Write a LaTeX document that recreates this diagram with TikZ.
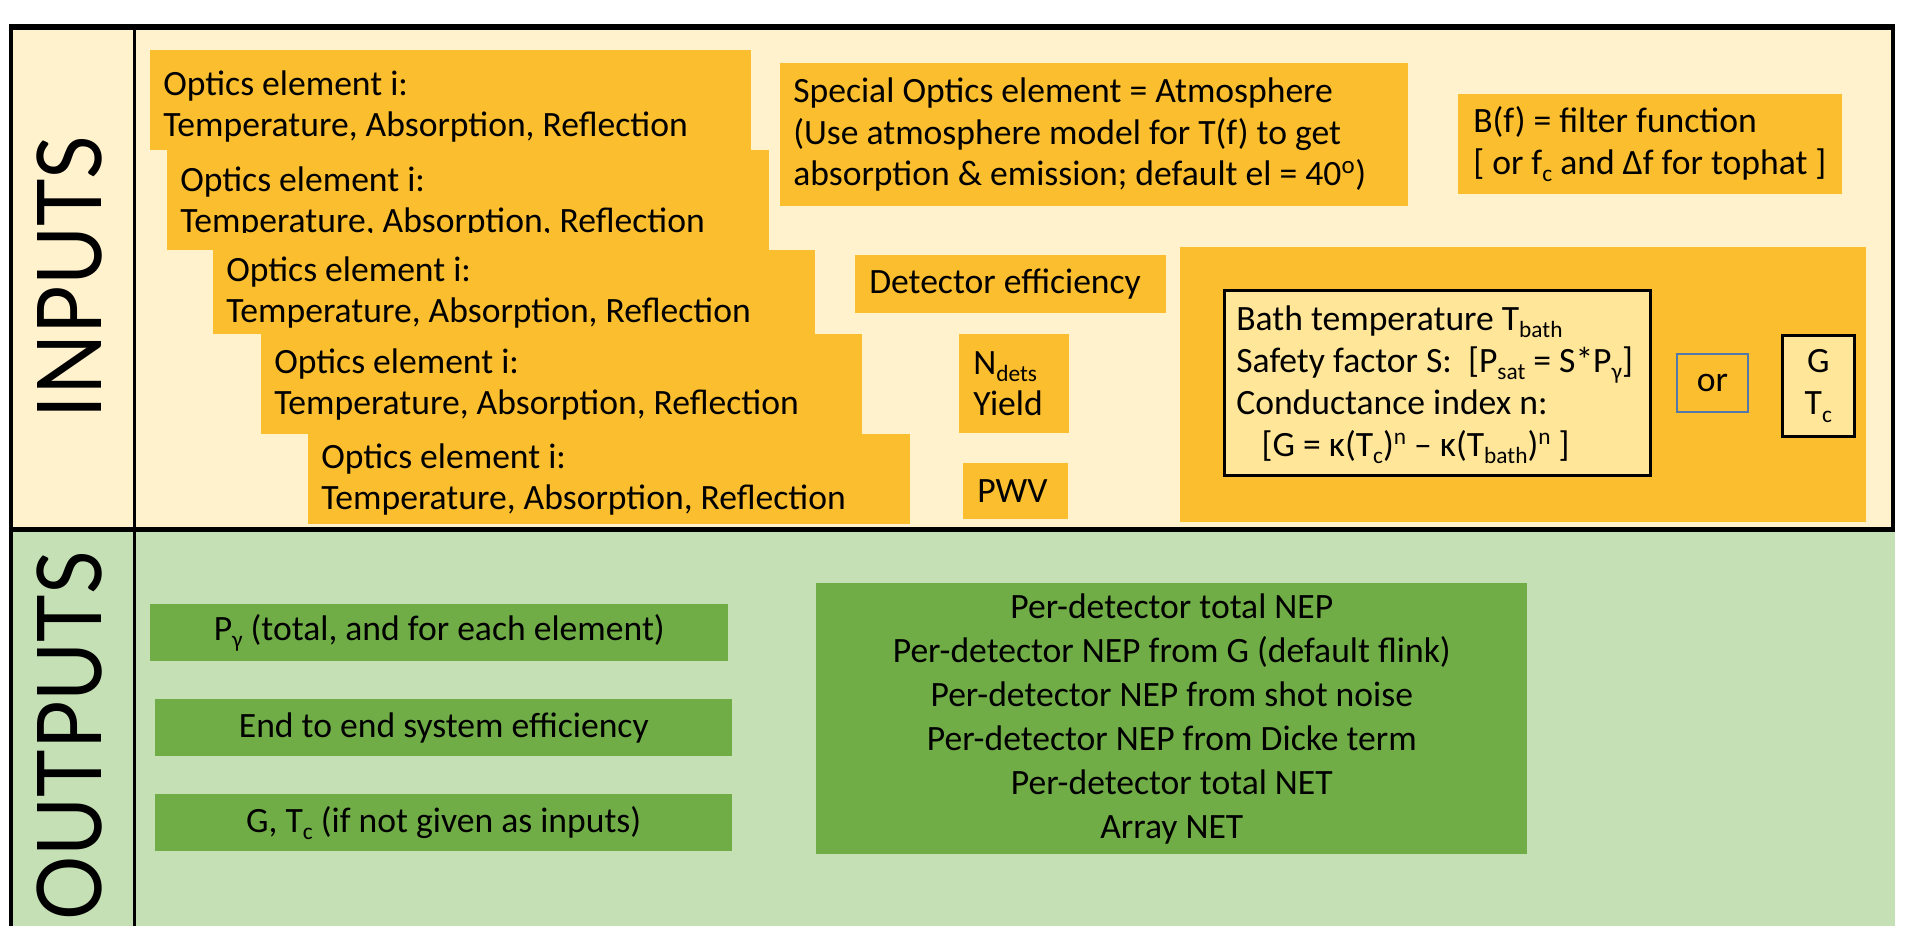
\documentclass[tikz,border=0pt]{standalone}
\usepackage{fontspec}
\setmainfont{Carlito}
\newfontfamily\labelfont{Lato}
\usepackage{graphicx}
\definecolor{cream}{HTML}{FFF2CC}
\definecolor{sage}{HTML}{C6E0B5}
\definecolor{gold}{HTML}{FBBE2E}
\definecolor{leaf}{HTML}{70AD47}
\definecolor{paleGold}{HTML}{FFE699}
\definecolor{steel}{HTML}{5479A8}
\newcommand\pxu{0.75pt}
\newcommand\bxfont{\fontsize{26.7}{31}\selectfont}
\newcommand\sbs[1]{\raisebox{-5.5pt}{\fontsize{17.5}{17.5}\selectfont #1}}
\newcommand\sps[1]{\raisebox{9pt}{\fontsize{17.5}{17.5}\selectfont #1}}
\tikzset{
  obox/.style={fill=gold, draw=none, anchor=north west, inner sep=0pt},
  otext/.style={anchor=west, align=left, inner sep=0pt, font=\bxfont},
  gbox/.style={fill=leaf, draw=none, anchor=north west, inner sep=0pt, align=center, font=\bxfont},
  bigLabel/.style={rotate=90, inner sep=0pt, font=\labelfont\fontsize{67}{67}\selectfont},
}
\begin{document}
\begin{tikzpicture}[x=0.75pt, y=-0.75pt]
\useasboundingbox (0,0) rectangle (1908,952);
% panels
\fill[cream] (11,27) rectangle (1893,529);
\fill[sage] (11,529) rectangle (1895,926);

% optics elements
\node[obox, minimum width=601*\pxu, minimum height=100*\pxu] (o1) at (150,50) {};
\node[otext] (o1t) at ([xshift=13*\pxu, yshift=-6*\pxu]o1.west) {Optics element i:\\Temperature, Absorption, Reflection};
\node[obox, minimum width=602*\pxu, minimum height=100*\pxu] (o2) at (167,150) {};
\begin{scope}
\clip (167,150) rectangle (769,233);
\node[otext] (o2t) at ([xshift=13*\pxu, yshift=-2*\pxu]o2.west) {Optics element i:\\Temperature, Absorption, Reflection};
\end{scope}
\node[obox, minimum width=602*\pxu, minimum height=84*\pxu] (o3) at (213,250) {};
\node[otext] (o3t) at ([xshift=13*\pxu]o3.west) {Optics element i:\\Temperature, Absorption, Reflection};
\node[obox, minimum width=601*\pxu, minimum height=100*\pxu] (o4) at (261,334) {};
\node[otext] (o4t) at ([xshift=13*\pxu]o4.west) {Optics element i:\\Temperature, Absorption, Reflection};
\node[obox, minimum width=602*\pxu, minimum height=90*\pxu] (o5) at (308,434) {};
\node[otext] (o5t) at ([xshift=13*\pxu]o5.west) {Optics element i:\\Temperature, Absorption, Reflection};

% special optics
\node[obox, minimum width=628*\pxu, minimum height=143*\pxu] (sp) at (780,63) {};
\node[otext] (spt) at ([xshift=13*\pxu]sp.west) {Special Optics element = Atmosphere\\(Use atmosphere model for T(f) to get\\absorption \& emission; default el = 40\textsuperscript{o})};

% filter
\node[obox, minimum width=384*\pxu, minimum height=100*\pxu] (bf) at (1458,94) {};
\node[otext] (bft) at ([xshift=15*\pxu]bf.west) {B(f) = filter function\\{[} or f\sbs{c} and Δf for tophat ]};

% detector efficiency, Ndets, PWV
\node[obox, minimum width=311*\pxu, minimum height=58*\pxu] (de) at (855,255) {};
\node[otext] (det) at ([xshift=14*\pxu]de.west) {Detector efficiency};
\node[obox, minimum width=110*\pxu, minimum height=99*\pxu] (nd) at (959,334) {};
\node[otext] (ndt) at ([xshift=14*\pxu]nd.west) {N\sbs{dets}\\Yield};
\node[obox, minimum width=105*\pxu, minimum height=56*\pxu] (pw) at (963,463) {};
\node[otext] (pwt) at ([xshift=14*\pxu]pw.west) {PWV};

% bolometer parameters
\node[obox, minimum width=686*\pxu, minimum height=275*\pxu] (bo) at (1180,247) {};
\node[obox, fill=paleGold, draw=black, line width=1.9pt, minimum width=426*\pxu, minimum height=185*\pxu] (ba) at (1223,289) {};
\node[otext, font=\fontsize{26.7}{31.5}\selectfont] (bat) at ([xshift=13*\pxu, yshift=-2*\pxu]ba.west) {Bath temperature T\sbs{bath}\\Safety factor S:\ \ [P\sbs{sat} = S*P\sbs{γ}]\\Conductance index n:\\\hspace*{19pt}[G = κ(T\sbs{c})\sps{n} – κ(T\sbs{bath})\sps{n} ]};
\node[obox, fill=gold, draw=steel, line width=1.3pt, minimum width=71*\pxu, minimum height=58*\pxu, font=\bxfont] (or) at (1676,353) {or};
\node[obox, fill=paleGold, draw=black, line width=1.9pt, minimum width=72*\pxu, minimum height=101*\pxu, align=center, font=\fontsize{26.7}{32}\selectfont] (gt) at (1781,334) {G\\T\sbs{c}};

% outputs
\node[gbox, minimum width=578*\pxu, minimum height=57*\pxu] (p1) at (150,604) {P\sbs{γ} (total, and for each element)};
\node[gbox, minimum width=577*\pxu, minimum height=57*\pxu] (p2) at (155,699) {End to end system efficiency};
\node[gbox, minimum width=577*\pxu, minimum height=57*\pxu] (p3) at (155,794) {G, T\sbs{c} (if not given as inputs)};
\node[gbox, minimum width=711*\pxu, minimum height=271*\pxu, font=\fontsize{26.7}{33}\selectfont] (nep) at (816,583) {Per-detector total NEP\\Per-detector NEP from G (default flink)\\Per-detector NEP from shot noise\\Per-detector NEP from Dicke term\\Per-detector total NET\\Array NET};

% frame lines
\draw[line width=4.5pt] (9,27) -- (1895,27);
\draw[line width=3pt] (1893,24) -- (1893,532);
\draw[line width=2.6pt] (11,24) -- (11,926);
\draw[line width=2.25pt] (134.5,27) -- (134.5,926);
\draw[line width=4.2pt] (9,529.5) -- (1895,529.5);

% section labels
\node[bigLabel] (inp) at (70,277) {\scalebox{0.9}[1]{INPUTS}};
\node[bigLabel] (outp) at (70,736) {\scalebox{0.9}[1]{OUTPUTS}};
\end{tikzpicture}
\end{document}
